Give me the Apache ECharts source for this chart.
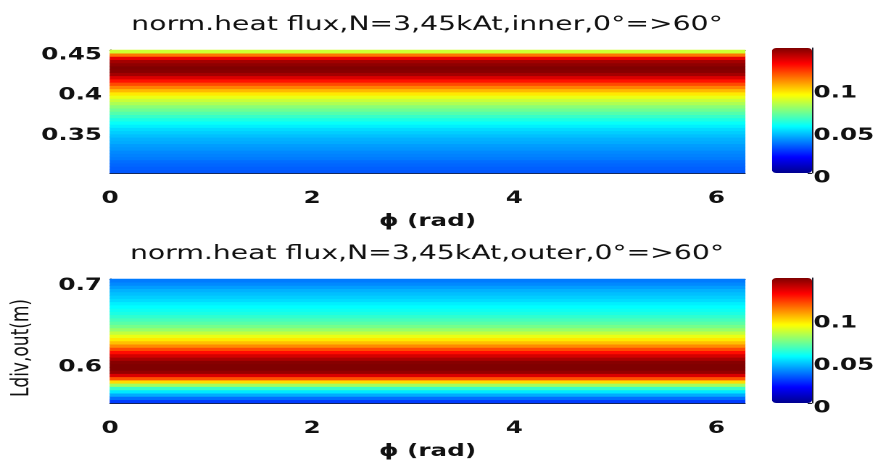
<!DOCTYPE html>
<html>
<head>
<meta charset="utf-8">
<title>norm.heat flux, N=3, 45kAt</title>
<script src="https://cdn.jsdelivr.net/npm/echarts@6/dist/echarts.min.js"></script>
<style>
  html, body { margin: 0; padding: 0; background: #fff; overflow: hidden; }
  #wrap { width: 876px; height: 465px; overflow: hidden; position: relative; }
  /* The lettering is wide: the chart is laid out narrower and stretched horizontally. */
  #chart { height: 465px; transform-origin: 0 0; }
</style>
</head>
<body>
<div id="wrap"><div id="chart"></div></div>
<script>
// ---- data ---------------------------------------------------------------
// toroidal angle range (rad)
const phiMin = 0;
const phiMax = 6.2832;
const phiTicks = [0, 2, 4, 6];

// inner divertor: row centres of Ldiv (m), bottom to top, and normalised heat flux
const innerL = [0.306, 0.310, 0.314, 0.318, 0.322, 0.326, 0.330, 0.334, 0.338, 0.342,
                0.346, 0.350, 0.354, 0.358, 0.362, 0.366, 0.370, 0.374, 0.378, 0.382,
                0.386, 0.390, 0.394, 0.398, 0.402, 0.406, 0.410, 0.414, 0.418, 0.422,
                0.426, 0.430, 0.434, 0.438, 0.442, 0.446, 0.450, 0.454];
const innerFlux = [0.031, 0.032, 0.033, 0.034, 0.036, 0.037, 0.038, 0.040, 0.041, 0.043,
                   0.044, 0.046, 0.048, 0.050, 0.053, 0.056, 0.059, 0.063, 0.067, 0.071,
                   0.075, 0.080, 0.084, 0.089, 0.095, 0.102, 0.110, 0.118, 0.126, 0.134,
                   0.142, 0.146, 0.147, 0.145, 0.142, 0.132, 0.112, 0.085];
const innerTicks = [0.35, 0.4, 0.45];

// outer divertor
const outerL = [0.558, 0.562, 0.566, 0.570, 0.574, 0.578, 0.582, 0.586, 0.590, 0.594,
                0.598, 0.602, 0.606, 0.610, 0.614, 0.618, 0.622, 0.626, 0.630, 0.634,
                0.638, 0.642, 0.646, 0.650, 0.654, 0.658, 0.662, 0.666, 0.670, 0.674,
                0.678, 0.682, 0.686, 0.690, 0.694, 0.698, 0.702, 0.706];
const outerFlux = [0.027, 0.034, 0.043, 0.052, 0.063, 0.078, 0.097, 0.117, 0.134, 0.144,
                   0.147, 0.147, 0.146, 0.141, 0.135, 0.127, 0.118, 0.109, 0.101, 0.095,
                   0.089, 0.083, 0.077, 0.072, 0.068, 0.065, 0.062, 0.059, 0.057, 0.055,
                   0.053, 0.050, 0.048, 0.046, 0.044, 0.041, 0.038, 0.036];
const outerTicks = [0.6, 0.7];

// colour scale
const fluxMin = 0;
const fluxMax = 0.147;
const colorbarTicks = [0, 0.05, 0.1];

const titles = [
  'norm.heat flux,N=3,45kAt,inner,0°=>60°',
  'norm.heat flux,N=3,45kAt,outer,0°=>60°'
];
const xName = 'ϕ (rad)';
const outerYName = 'Ldiv,out(m)';

// ---- layout -------------------------------------------------------------
const SX = 1.45;                 // horizontal stretch of the whole drawing
const px = v => v / SX;          // screen x (px) -> layout x
const W = 876 / SX;
document.getElementById('chart').style.width = W + 'px';
document.getElementById('chart').style.transform = 'scaleX(' + SX + ')';

const JET = ['#00008f', '#0000ff', '#0080ff', '#00ffff', '#80ff80',
             '#ffff00', '#ff8000', '#ff0000', '#800000'];
const FONT = 'DejaVu Sans';
const INK = '#111';
const LINE = '#1a1a2a';
const bold = { fontFamily: FONT, fontWeight: 'bold', fontSize: 17, color: INK };

const panels = [
  { L: innerL, flux: innerFlux, ticks: innerTicks, top: 50, height: 123, cbTop: 48, titleTop: 15, yName: '' },
  { L: outerL, flux: outerFlux, ticks: outerTicks, top: 279, height: 124, cbTop: 278, titleTop: 244, yName: outerYName }
];

const grid = [], xAxis = [], yAxis = [], series = [], visualMap = [], title = [];

panels.forEach((p, i) => {
  const step = p.L[1] - p.L[0];
  const yMin = p.L[0] - step / 2;
  const yMax = p.L[p.L.length - 1] + step / 2;
  const g = grid.length;

  // heat-map panel
  grid.push({ left: px(110), width: px(635), top: p.top, height: p.height, outerBoundsMode: 'none', containLabel: false });
  // colour-bar panel
  grid.push({ left: px(772), width: px(40), top: p.cbTop, height: 125, outerBoundsMode: 'none', containLabel: false });

  title.push({
    text: titles[i], left: px(427), top: p.titleTop, textAlign: 'center', padding: 0,
    textStyle: { fontFamily: FONT, fontWeight: 'normal', fontSize: 19.5, color: INK }
  });

  const xCat = xAxis.length;
  xAxis.push({
    type: 'category', gridIndex: g, position: 'top', data: ['ϕ'], boundaryGap: true,
    axisLine: { show: true, lineStyle: { color: LINE, width: 1 } },
    axisTick: { show: false }, axisLabel: { show: false }, splitLine: { show: false }
  });
  xAxis.push({
    type: 'value', gridIndex: g, position: 'bottom', min: phiMin, max: phiMax,
    name: xName, nameLocation: 'middle', nameGap: 40, nameTextStyle: bold,
    axisLine: { show: true, onZero: false, lineStyle: { color: LINE, width: 1 } },
    axisTick: { show: true, inside: true, length: 4, customValues: phiTicks, lineStyle: { color: LINE } },
    axisLabel: Object.assign({ margin: 17, customValues: phiTicks }, bold),
    splitLine: { show: false }
  });
  // hidden x axis for the colour bar
  xAxis.push({ type: 'value', gridIndex: g + 1, show: false, min: 0, max: 1 });

  const yCat = yAxis.length;
  yAxis.push({
    type: 'category', gridIndex: g, position: 'right', data: p.L.map(String), boundaryGap: true,
    axisLine: { show: true, lineStyle: { color: LINE, width: 1 } },
    axisTick: { show: false }, axisLabel: { show: false }, splitLine: { show: false }
  });
  yAxis.push({
    type: 'value', gridIndex: g, position: 'left', min: yMin, max: yMax,
    name: p.yName, nameLocation: 'middle', nameGap: 52.5, nameRotate: 90,
    nameTextStyle: { fontFamily: FONT, fontWeight: 'normal', fontSize: 17, color: INK, padding: [0, 14, 0, 0] },
    axisLine: { show: true, onZero: false, lineStyle: { color: LINE, width: 1 } },
    axisTick: { show: true, inside: true, length: 4, customValues: p.ticks, lineStyle: { color: LINE } },
    axisLabel: Object.assign({ margin: 5.5, customValues: p.ticks }, bold),
    splitLine: { show: false }
  });
  // colour-bar scale; labels sit a little below their ticks
  yAxis.push({
    type: 'value', gridIndex: g + 1, position: 'right', min: fluxMin, max: fluxMax,
    axisLine: { show: true, onZero: false, lineStyle: { color: LINE, width: 1 } },
    axisTick: { show: true, inside: true, length: 3, customValues: colorbarTicks, lineStyle: { color: LINE } },
    axisLabel: Object.assign({ margin: 1, customValues: colorbarTicks, verticalAlign: 'top', lineHeight: 10 }, bold),
    splitLine: { show: false }
  });

  series.push({
    type: 'heatmap', xAxisIndex: xCat, yAxisIndex: yCat,
    data: p.flux.map((v, r) => [0, r, v]),
    itemStyle: { borderWidth: 0 },
    emphasis: { disabled: true },
    progressive: 0
  });

  visualMap.push({
    type: 'continuous', seriesIndex: i, min: fluxMin, max: fluxMax,
    calculable: false, realtime: false, hoverLink: false, padding: 0,
    orient: 'vertical', left: px(772), top: p.cbTop,
    itemWidth: px(40), itemHeight: 125, text: null, showLabel: false,
    inRange: { color: JET }
  });
});

const chart = echarts.init(document.getElementById('chart'), null, { renderer: 'canvas', devicePixelRatio: 2 });
chart.setOption({
  animation: false,
  backgroundColor: '#fff',
  title, grid, xAxis, yAxis, series, visualMap
});
</script>
</body>
</html>
